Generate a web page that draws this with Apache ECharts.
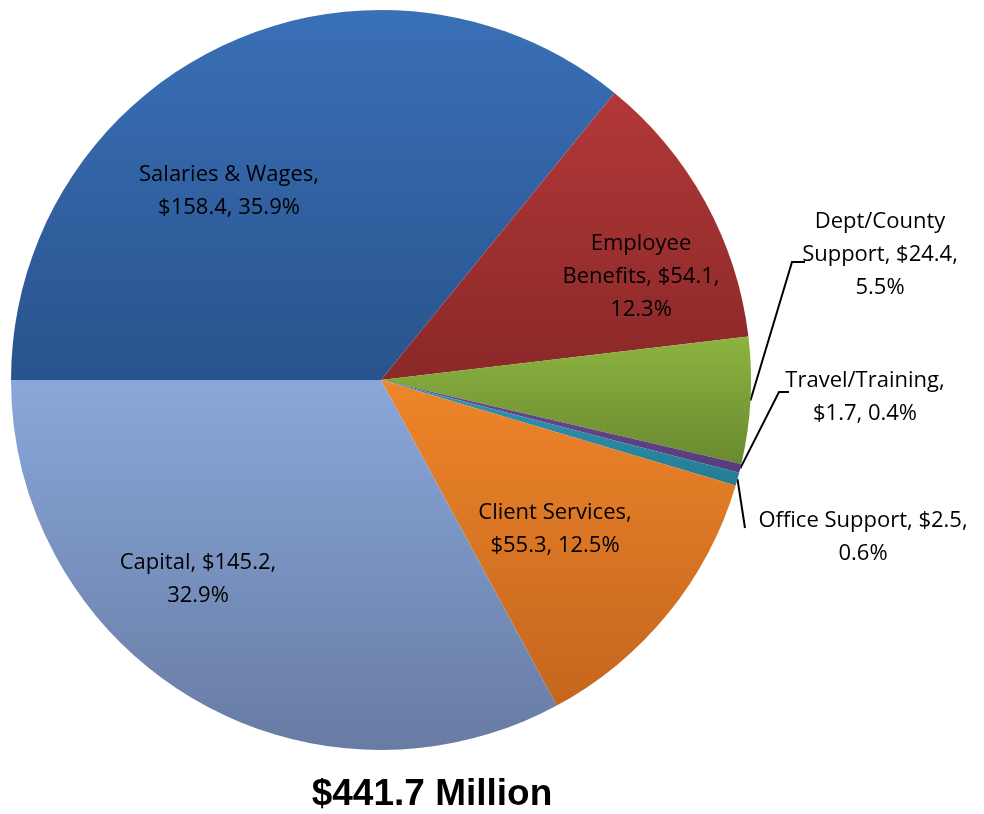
<!DOCTYPE html>
<html lang="en">

<head>
    <meta charset="UTF-8">
    <title>Budget</title>
    <script src="https://cdn.jsdelivr.net/npm/echarts@6/dist/echarts.min.js"></script>
    <style>
        html, body { margin: 0; padding: 0; background: #fff; }
        #chart { width: 984px; height: 814px; }
    </style>
</head>

<body>
    <div id="chart"></div>
    <script>
        // data, clockwise from 9 o'clock
        var categories = ['Salaries & Wages', 'Employee Benefits', 'Dept/County Support',
            'Travel/Training', 'Office Support', 'Client Services', 'Capital'];
        var amounts = [158.4, 54.1, 24.4, 1.7, 2.5, 55.3, 145.2];
        var totalText = '$441.7 Million';

        // slice colours: [top, bottom] of each gradient
        var shades = [
            ['#3a70b7', '#29538d'],
            ['#b23838', '#8a2828'],
            ['#8cb440', '#6a8a30'],
            ['#6c4b91', '#573b7b'],
            ['#3297b4', '#257b95'],
            ['#ee8529', '#c4661e'],
            ['#89a7da', '#677ba3']
        ];

        // where each label sits and how its leader line bends
        var labelSpots = [
            { x: 229, y: 191 },
            { x: 641, y: 277 },
            { x: 880, y: 255, bend: [792, 262], end: [805, 262] },
            { x: 865, y: 397, bend: [779, 392], end: [789, 392] },
            { x: 863, y: 537, bend: [745, 528], end: [745, 528] },
            { x: 555, y: 529 },
            { x: 198, y: 579 }
        ];

        var sum = amounts.reduce(function (a, b) { return a + b; }, 0);

        function labelText(p) {
            var v = '$' + p.value.toFixed(1);
            var pc = (p.value / sum * 100).toFixed(1) + '%';
            switch (p.dataIndex) {
                case 1: return 'Employee\nBenefits, ' + v + ',\n' + pc;
                case 2: return 'Dept/County\nSupport, ' + v + ',\n' + pc;
                case 4:
                case 6: return p.name + ', ' + v + ',\n' + pc;
                default: return p.name + ',\n' + v + ', ' + pc;
            }
        }

        var seriesData = categories.map(function (name, i) {
            var outside = i >= 2 && i <= 4;
            return {
                name: name,
                value: amounts[i],
                itemStyle: {
                    color: {
                        type: 'linear', x: 0, y: 0, x2: 0, y2: 1,
                        colorStops: [
                            { offset: 0, color: shades[i][0] },
                            { offset: 1, color: shades[i][1] }
                        ]
                    }
                },
                label: { position: outside ? 'outside' : 'inside' },
                labelLine: { show: outside }
            };
        });

        var chart = echarts.init(document.getElementById('chart'), null, { renderer: 'canvas' });
        chart.setOption({
            backgroundColor: '#ffffff',
            animation: false,
            title: {
                text: totalText,
                left: 427,
                textAlign: 'center',
                top: 771,
                textStyle: {
                    fontFamily: 'Liberation Sans',
                    fontWeight: 'bold',
                    fontSize: 37,
                    color: '#000'
                }
            },
            series: [{
                type: 'pie',
                center: [381, 380],
                radius: 370,
                startAngle: 180,
                clockwise: true,
                avoidLabelOverlap: false,
                data: seriesData,
                label: {
                    show: true,
                    formatter: labelText,
                    fontFamily: 'Open Sans',
                    fontSize: 22,
                    lineHeight: 33,
                    color: '#000',
                    align: 'center'
                },
                labelLine: {
                    length: 20,
                    length2: 10,
                    lineStyle: { color: '#000', width: 2 }
                },
                labelLayout: function (p) {
                    var s = labelSpots[p.dataIndex];
                    var out = { x: s.x, y: s.y, align: 'center', verticalAlign: 'middle' };
                    if (s.bend && p.labelLinePoints) {
                        out.labelLinePoints = [p.labelLinePoints[0], s.bend, s.end];
                    }
                    return out;
                }
            }]
        });
    </script>
</body>

</html>
